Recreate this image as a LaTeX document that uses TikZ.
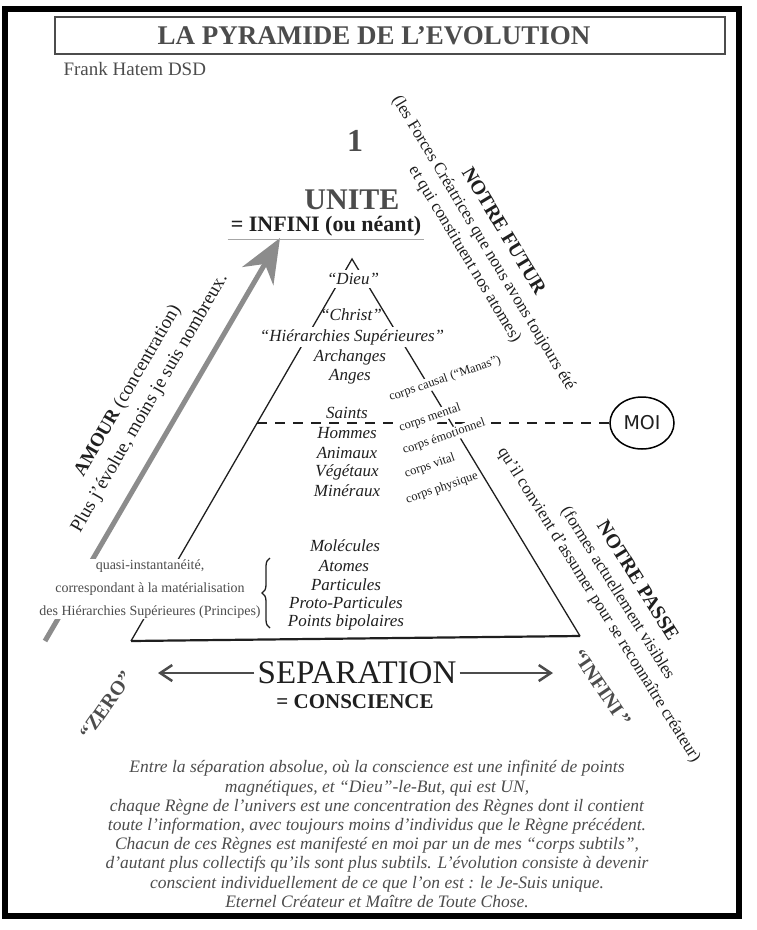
\documentclass[tikz,border=0pt]{standalone}
\usepackage{fontspec}
\setmainfont{Liberation Serif}
\newfontfamily\handfont{DejaVu Sans}
\usepackage{tikz}
\usetikzlibrary{arrows.meta, shapes.geometric, decorations.pathreplacing}
\definecolor{ScanInk}{gray}{0.12}
\definecolor{ScanGray}{gray}{0.3}
\definecolor{ArrowGray}{gray}{0.55}

\begin{document}
\begin{tikzpicture}[x=1pt, y=-1pt,
		side/.style={line width=1.3pt, ScanInk},
		reign/.style={font=\fontsize{17}{19}\selectfont\itshape, text=ScanInk, inner sep=1pt},
		corps/.style={font=\fontsize{12.5}{14}\selectfont, text=ScanInk, rotate=19, fill=white, inner sep=1pt},
		slant/.style={align=center, text=ScanInk, font=\fontsize{17}{22}\selectfont},
		bigarrow/.style={line width=5pt, draw=ArrowGray, -{Stealth[length=44pt, width=36pt, inset=14pt]}},
		separrow/.style={line width=2.5pt, draw=ScanGray, -{Straight Barb[length=12pt, width=16pt]}}]

		% Frame
		\useasboundingbox (0,0) rectangle (757,930);
		\draw[line width=6pt] (5,9) rectangle (739,916);
		\draw[line width=1.4pt, ScanGray] (55,17) rectangle (725,54);

		% Title
		\node[text=ScanGray, font=\fontsize{27}{30}\selectfont\bfseries] (title) at (374,36) {LA PYRAMIDE DE L'EVOLUTION};
		\node[anchor=west, text=ScanGray, font=\fontsize{19}{22}\selectfont] (author) at (60,69) {Frank Hatem DSD};

		% Pyramid
		\coordinate (apex) at (352,259);
		\coordinate (baseL) at (131,641);
		\coordinate (baseR) at (580,636);
		\draw[side] (baseL) -- (apex) -- (baseR);
		\draw[side, line width=2.2pt] (baseL) -- (baseR);

		% Amour arrow
		\coordinate (amourTail) at (45,641);
		\coordinate (amourTip) at (280,238);
		\draw[bigarrow] (amourTail) -- (amourTip);

		% Moi
		\node[draw, ellipse, line width=1.5pt, minimum width=64pt, minimum height=52pt, inner sep=1pt, text=ScanInk, font=\handfont\fontsize{19}{20}\selectfont] (moi) at (642,423) {MOI};
		\coordinate (dashL) at (257,423);
		\draw[line width=1.8pt, ScanInk, dash pattern=on 10pt off 8pt] (dashL) -- (moi);

		% Top
		\node[text=ScanGray, font=\fontsize{32}{34}\selectfont\bfseries] (one) at (355,141) {1};
		\node[text=ScanGray, font=\fontsize{30}{32}\selectfont\bfseries] (unite) at (352,200) {UNITE};
		\node[text=ScanInk, font=\fontsize{22}{24}\selectfont\bfseries, inner sep=3pt] (infini) at (326,226) {= INFINI (ou néant)};
		\draw[line width=0.8pt, black!35] (infini.south west) -- (infini.south east);

		% Regnes
		\node[reign, fill=white, inner sep=3pt] (dieu) at (353,279) {``Dieu''};
		\node[reign] (christ) at (351,315) {``Christ''};
		\node[reign, fill=white, inner sep=2pt] (hierarchies) at (352,337) {``Hiérarchies Supérieures''};
		\node[reign] (archanges) at (350,357) {Archanges};
		\node[reign] (anges) at (350,377) {Anges};
		\node[reign] (saints) at (347,413) {Saints};
		\node[reign] (hommes) at (347,433) {Hommes};
		\node[reign] (animaux) at (347,453) {Animaux};
		\node[reign] (vegetaux) at (347,472) {Végétaux};
		\node[reign] (mineraux) at (347,491) {Minéraux};
		\node[reign] (molecules) at (345,546) {Molécules};
		\node[reign] (atomes) at (344,566) {Atomes};
		\node[reign] (particules) at (346,585) {Particules};
		\node[reign] (proto) at (346,603) {Proto-Particules};
		\node[reign] (points) at (346,622) {Points bipolaires};

		% Corps
		\node[corps] (causal) at (445,379) {corps causal (``Manas'')};
		\node[corps] (mental) at (430,418) {corps mental};
		\node[corps] (emotion) at (444,437) {corps émotionnel};
		\node[corps] (vital) at (430,466) {corps vital};
		\node[corps] (physique) at (442,488) {corps physique};

		% Principes
		\node[fill=white, inner sep=1pt, align=center, text=ScanGray, font=\fontsize{14}{23}\selectfont] (quasi) at (150,589) {quasi-instantanéité,\\ correspondant à la matérialisation\\ des Hiérarchies Supérieures (Principes)};
		\coordinate (braceB) at (270,628);
		\coordinate (braceT) at (270,558);
		\draw[decorate, decoration={brace, amplitude=8pt}, line width=1.3pt, ScanInk] (braceB) -- (braceT);

		% Slanted labels
		\node[slant, rotate=60, font=\fontsize{19}{25}\selectfont] (amour) at (139,397) {\textbf{AMOUR} (concentration)\\ Plus j'évolue, moins je suis nombreux.};
		\node[slant, rotate=-59] (futur) at (484,243) {{\fontsize{20}{22}\selectfont\bfseries NOTRE FUTUR}\\ (les Forces Créatrices que nous avons toujours été\\ et qui constituent nos atomes)};
		\node[slant, rotate=-58] (passe) at (618,593) {{\fontsize{20}{22}\selectfont\bfseries NOTRE PASSE}\\ (formes actuellement visibles\\ qu'il convient d'assumer pour se reconnaître créateur)};
		\node[text=ScanGray, font=\fontsize{20}{22}\selectfont\bfseries, rotate=55] (zero) at (106,705) {``ZERO''};
		\node[text=ScanGray, font=\fontsize{20}{22}\selectfont\bfseries, rotate=-56] (infinity) at (602,688) {``INFINI\,''};

		% Separation
		\node[text=ScanInk, font=\fontsize{33}{36}\selectfont, inner sep=3pt] (separation) at (357,673) {SEPARATION};
		\node[text=ScanInk, font=\fontsize{21}{24}\selectfont\bfseries] (conscience) at (355,702) {= CONSCIENCE};
		\coordinate (sepL) at (158,673);
		\coordinate (sepR) at (553,673);
		\draw[separrow] (separation) -- (sepL);
		\draw[separrow] (separation) -- (sepR);

		% Text
		\node[align=center, text=ScanGray, font=\fontsize{17.5}{19.2}\selectfont\itshape] (credo) at (377,834) {Entre la séparation absolue, où la conscience est une infinité de points\\ magnétiques, et ``Dieu''-le-But, qui est UN,\\ chaque Règne de l'univers est une concentration des Règnes dont il contient\\ toute l'information, avec toujours moins d'individus que le Règne précédent.\\ Chacun de ces Règnes est manifesté en moi par un de mes ``corps subtils'',\\ d'autant plus collectifs qu'ils sont plus subtils. L'évolution consiste à devenir\\ conscient individuellement de ce que l'on est : le Je-Suis unique.\\ Eternel Créateur et Maître de Toute Chose.};
	\end{tikzpicture}
\end{document}
